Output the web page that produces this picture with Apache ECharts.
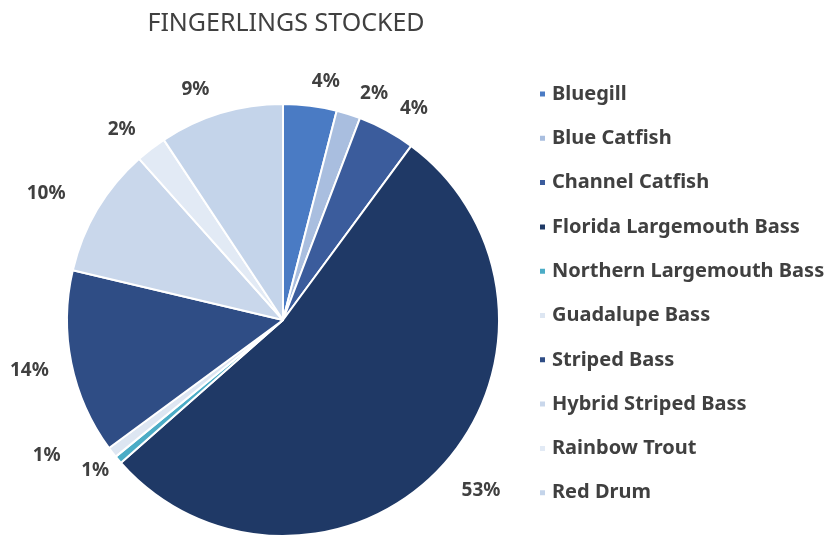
<!DOCTYPE html>
<html>
<head>
<meta charset="utf-8">
<script src="https://cdn.jsdelivr.net/npm/echarts@6/dist/echarts.min.js"></script>
<style>
  html, body { margin: 0; padding: 0; background: #ffffff; }
  #chart { width: 831px; height: 542px; }
</style>
</head>
<body>
<div id="chart"></div>
<script>
const categories = [
  "Bluegill", "Blue Catfish", "Channel Catfish", "Florida Largemouth Bass",
  "Northern Largemouth Bass", "Guadalupe Bass", "Striped Bass",
  "Hybrid Striped Bass", "Rainbow Trout", "Red Drum"
];
const values = [4.0, 1.8, 4.3, 53.4, 0.6, 0.8, 13.8, 9.7, 2.3, 9.3];
const colors = [
  "#4a7bc4", "#a9bedf", "#3b5c9c", "#1f3966", "#4bacc6",
  "#dde6f2", "#2f4d85", "#c9d7eb", "#e2eaf5", "#c4d4ea"
];
const titleText = "FINGERLINGS STOCKED";

// label placement tweaks (layout only, not data)
const labelRim = [22, 22, 22, 22, 12, 40, 22, 22, 22, 22];
const labelShift = [[-6, -2], [0, 0], [-2, -2], [-2, 10], [5, 3], [-15, -21], [4, 3], [-8, -5], [3, -2], [0, -2]];

const chart = echarts.init(document.getElementById('chart'));
chart.setOption({
  animation: false,
  title: {
    text: titleText,
    left: 281, top: 6, textAlign: 'center',
    textStyle: { fontFamily: 'Noto Sans', fontSize: 25, fontWeight: 'normal', color: '#404040' }
  },
  legend: {
    orient: 'vertical',
    left: 533, top: 75,
    itemWidth: 7, itemHeight: 7, itemGap: 16.3,
    icon: 'rect',
    data: categories,
    textStyle: { fontFamily: 'Noto Sans', fontSize: 20, fontWeight: 'bold', color: '#404040', lineHeight: 28, padding: [0, 0, 0, 1] }
  },
  series: [{
    type: 'pie',
    center: [283, 320],
    radius: 216,
    startAngle: 90,
    clockwise: true,
    avoidLabelOverlap: false,
    data: categories.map((c, i) => ({
      name: c, value: values[i], itemStyle: { color: colors[i] },
      labelLine: { show: false, length: labelRim[i], length2: 0 }
    })),
    itemStyle: { borderColor: '#ffffff', borderWidth: 2 },
    label: {
      show: true, position: 'outside',
      formatter: p => Math.round(p.percent) + '%',
      fontFamily: 'Noto Sans', fontSize: 19, fontWeight: 'bold', color: '#404040'
    },
    labelLine: { show: false, length: 22, length2: 0 },
    labelLayout: p => ({ dx: labelShift[p.dataIndex][0], dy: labelShift[p.dataIndex][1], hideOverlap: false }),
    emphasis: { disabled: true }
  }]
});
</script>
</body>
</html>
